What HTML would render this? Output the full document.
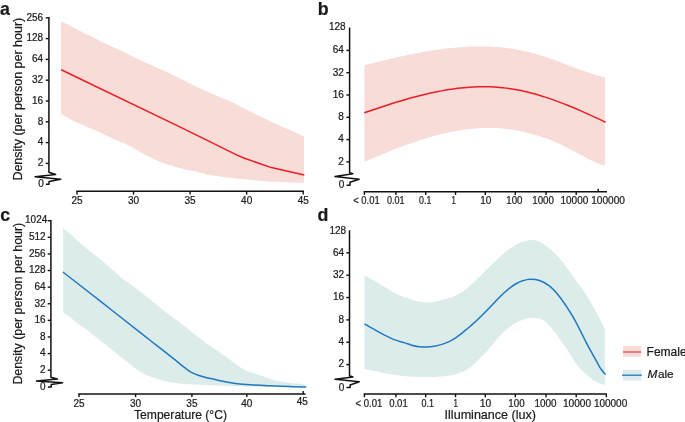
<!DOCTYPE html>
<html><head><meta charset="utf-8"><style>
html,body{margin:0;padding:0;background:#fff;overflow:hidden;}
svg{display:block;will-change:transform;font-family:"Liberation Sans",sans-serif;}
.t text{stroke:#1a1a1a;stroke-width:0.22px;paint-order:stroke;}
</style></head><body>
<svg width="685" height="422" viewBox="0 0 685 422">
<rect width="685" height="422" fill="#fff"/>
<g font-family="'Liberation Sans', sans-serif" fill="#1a1a1a" class="t">
<path d="M61.10,21.70 L66.80,24.10 L75.50,28.40 L84.30,33.30 L93.00,37.20 L97.40,39.40 L100.00,40.90 L110.20,45.70 L120.40,50.30 L130.70,55.40 L140.90,60.50 L151.10,65.10 L161.30,69.70 L170.00,73.60 L175.20,76.20 L185.40,81.10 L195.70,86.40 L205.90,91.00 L216.10,95.60 L226.30,99.70 L233.50,103.00 L243.10,108.00 L254.20,113.50 L265.30,119.10 L276.40,124.10 L287.50,129.10 L298.60,134.10 L304.10,136.40 L304.10,182.70 L291.60,182.40 L274.70,181.70 L257.70,180.70 L240.80,179.00 L223.90,176.90 L206.90,174.40 L195.00,171.30 L186.30,169.70 L176.10,167.10 L165.90,164.10 L155.70,160.00 L145.40,154.90 L135.20,149.20 L125.00,143.60 L113.30,139.10 L102.70,133.80 L92.00,129.00 L81.30,124.20 L76.00,122.10 L70.70,119.40 L61.10,114.00 Z" fill="#f8dcd7"/>
<path d="M61.20,69.70 L186.00,129.90 L237.10,155.10 L244.50,158.30 L271.30,167.60 L304.30,174.90" fill="none" stroke="#ed1c24" stroke-width="1.5" stroke-linejoin="round"/>
<path d="M48.90,17.10 L48.90,172.30 L48.90,172.30 L55.60,174.50 L35.10,176.70 L60.70,179.20 L49.05,181.50 L49.05,184.30 L45.90,184.30" fill="none" stroke="#111" stroke-width="1.5" stroke-linejoin="round"/>
<line x1="45.699999999999996" y1="17.8" x2="48.9" y2="17.8" stroke="#111" stroke-width="1.4"/>
<line x1="45.699999999999996" y1="38.6" x2="48.9" y2="38.6" stroke="#111" stroke-width="1.4"/>
<line x1="45.699999999999996" y1="59.400000000000006" x2="48.9" y2="59.400000000000006" stroke="#111" stroke-width="1.4"/>
<line x1="45.699999999999996" y1="80.2" x2="48.9" y2="80.2" stroke="#111" stroke-width="1.4"/>
<line x1="45.699999999999996" y1="101.0" x2="48.9" y2="101.0" stroke="#111" stroke-width="1.4"/>
<line x1="45.699999999999996" y1="121.8" x2="48.9" y2="121.8" stroke="#111" stroke-width="1.4"/>
<line x1="45.699999999999996" y1="142.60000000000002" x2="48.9" y2="142.60000000000002" stroke="#111" stroke-width="1.4"/>
<line x1="45.699999999999996" y1="163.4" x2="48.9" y2="163.4" stroke="#111" stroke-width="1.4"/>
<text x="43.2" y="20.6" font-size="10.0" text-anchor="end">256</text>
<text x="43.2" y="41.4" font-size="10.0" text-anchor="end">128</text>
<text x="43.2" y="62.2" font-size="10.0" text-anchor="end">64</text>
<text x="43.2" y="83.0" font-size="10.0" text-anchor="end">32</text>
<text x="43.2" y="103.8" font-size="10.0" text-anchor="end">16</text>
<text x="43.2" y="124.6" font-size="10.0" text-anchor="end">8</text>
<text x="43.2" y="145.40000000000003" font-size="10.0" text-anchor="end">4</text>
<text x="43.2" y="166.20000000000002" font-size="10.0" text-anchor="end">2</text>
<text x="43.9" y="187.4" font-size="10.0" text-anchor="end">0</text>
<line x1="76.3" y1="191.2" x2="304" y2="191.2" stroke="#111" stroke-width="1.5"/>
<line x1="77.00" y1="191.2" x2="77.00" y2="194.6" stroke="#111" stroke-width="1.4"/>
<text x="77.00" y="204.2" font-size="10.0" text-anchor="middle">25</text>
<line x1="133.55" y1="191.2" x2="133.55" y2="194.6" stroke="#111" stroke-width="1.4"/>
<text x="133.55" y="204.2" font-size="10.0" text-anchor="middle">30</text>
<line x1="190.10" y1="191.2" x2="190.10" y2="194.6" stroke="#111" stroke-width="1.4"/>
<text x="190.10" y="204.2" font-size="10.0" text-anchor="middle">35</text>
<line x1="246.65" y1="191.2" x2="246.65" y2="194.6" stroke="#111" stroke-width="1.4"/>
<text x="246.65" y="204.2" font-size="10.0" text-anchor="middle">40</text>
<line x1="303.20" y1="191.2" x2="303.20" y2="194.6" stroke="#111" stroke-width="1.4"/>
<text x="303.20" y="204.2" font-size="10.0" text-anchor="middle">45</text>
<path d="M364.40,65.12 C365.40,64.87 368.41,64.12 370.41,63.63 C372.42,63.13 374.42,62.64 376.42,62.15 C378.43,61.66 380.43,61.17 382.44,60.69 C384.44,60.21 386.45,59.74 388.45,59.27 C390.45,58.80 392.46,58.34 394.46,57.89 C396.47,57.43 398.47,56.98 400.47,56.55 C402.48,56.11 404.48,55.68 406.49,55.26 C408.49,54.84 410.50,54.43 412.50,54.04 C414.50,53.64 416.51,53.25 418.51,52.88 C420.52,52.50 422.52,52.14 424.52,51.79 C426.53,51.44 428.53,51.10 430.54,50.78 C432.54,50.46 434.55,50.15 436.55,49.86 C438.55,49.57 440.56,49.29 442.56,49.04 C444.57,48.78 446.57,48.54 448.57,48.31 C450.58,48.09 452.58,47.88 454.59,47.69 C456.59,47.51 458.60,47.34 460.60,47.19 C462.60,47.04 464.61,46.92 466.61,46.81 C468.62,46.71 470.62,46.62 472.62,46.56 C474.63,46.50 476.63,46.46 478.64,46.44 C480.64,46.43 482.65,46.44 484.65,46.47 C486.65,46.51 488.66,46.57 490.66,46.66 C492.67,46.75 494.67,46.86 496.67,47.01 C498.68,47.16 500.68,47.33 502.69,47.54 C504.69,47.74 506.70,47.98 508.70,48.24 C510.70,48.51 512.71,48.81 514.71,49.14 C516.72,49.48 518.72,49.84 520.73,50.25 C522.73,50.65 524.73,51.09 526.74,51.56 C528.74,52.04 530.75,52.55 532.75,53.10 C534.75,53.65 536.76,54.24 538.76,54.85 C540.77,55.46 542.77,56.11 544.77,56.78 C546.78,57.45 548.78,58.15 550.79,58.86 C552.79,59.56 554.80,60.29 556.80,61.03 C558.80,61.77 560.81,62.52 562.81,63.27 C564.82,64.02 566.82,64.78 568.83,65.53 C570.83,66.28 572.83,67.03 574.84,67.77 C576.84,68.50 578.85,69.24 580.85,69.95 C582.85,70.66 584.86,71.37 586.86,72.04 C588.87,72.71 590.87,73.37 592.88,73.99 C594.88,74.61 596.88,75.21 598.89,75.77 C600.89,76.32 603.90,77.07 604.90,77.33 L604.90,166.01 C603.90,165.65 600.89,164.63 598.89,163.83 C596.88,163.03 594.88,162.14 592.88,161.21 C590.87,160.28 588.87,159.27 586.86,158.25 C584.86,157.23 582.85,156.16 580.85,155.10 C578.85,154.03 576.84,152.93 574.84,151.86 C572.83,150.78 570.83,149.70 568.83,148.66 C566.82,147.62 564.82,146.59 562.81,145.62 C560.81,144.65 558.80,143.72 556.80,142.84 C554.80,141.96 552.79,141.12 550.79,140.33 C548.78,139.53 546.78,138.78 544.77,138.06 C542.77,137.34 540.77,136.67 538.76,136.03 C536.76,135.39 534.75,134.78 532.75,134.22 C530.75,133.65 528.74,133.12 526.74,132.63 C524.73,132.13 522.73,131.68 520.73,131.26 C518.72,130.84 516.72,130.46 514.71,130.12 C512.71,129.78 510.70,129.48 508.70,129.21 C506.70,128.95 504.69,128.72 502.69,128.54 C500.68,128.35 498.68,128.21 496.67,128.10 C494.67,127.99 492.67,127.93 490.66,127.90 C488.66,127.87 486.65,127.88 484.65,127.93 C482.65,127.97 480.64,128.06 478.64,128.17 C476.63,128.29 474.63,128.45 472.62,128.63 C470.62,128.82 468.62,129.04 466.61,129.29 C464.61,129.54 462.60,129.83 460.60,130.14 C458.60,130.46 456.59,130.80 454.59,131.17 C452.58,131.55 450.58,131.95 448.57,132.38 C446.57,132.80 444.57,133.26 442.56,133.74 C440.56,134.22 438.55,134.73 436.55,135.26 C434.55,135.79 432.54,136.34 430.54,136.92 C428.53,137.49 426.53,138.09 424.52,138.71 C422.52,139.33 420.52,139.97 418.51,140.63 C416.51,141.28 414.50,141.96 412.50,142.65 C410.50,143.35 408.49,144.06 406.49,144.79 C404.48,145.51 402.48,146.26 400.47,147.01 C398.47,147.77 396.47,148.54 394.46,149.32 C392.46,150.10 390.45,150.90 388.45,151.71 C386.45,152.51 384.44,153.33 382.44,154.16 C380.43,154.98 378.43,155.82 376.42,156.66 C374.42,157.50 372.42,158.35 370.41,159.21 C368.41,160.06 365.40,161.36 364.40,161.79 Z" fill="#f8dcd7"/>
<path d="M364.30,112.82 C365.31,112.47 368.32,111.42 370.33,110.73 C372.34,110.04 374.35,109.36 376.37,108.68 C378.38,108.00 380.39,107.33 382.40,106.67 C384.41,106.01 386.42,105.35 388.43,104.71 C390.44,104.06 392.45,103.43 394.46,102.80 C396.47,102.18 398.48,101.56 400.50,100.96 C402.51,100.36 404.52,99.77 406.53,99.20 C408.54,98.62 410.55,98.06 412.56,97.52 C414.57,96.97 416.58,96.44 418.59,95.92 C420.60,95.41 422.61,94.91 424.62,94.43 C426.64,93.95 428.65,93.49 430.66,93.04 C432.67,92.60 434.68,92.18 436.69,91.77 C438.70,91.37 440.71,90.99 442.72,90.62 C444.73,90.26 446.74,89.92 448.75,89.61 C450.77,89.29 452.78,89.00 454.79,88.73 C456.80,88.46 458.81,88.22 460.82,88.00 C462.83,87.78 464.84,87.59 466.85,87.43 C468.86,87.26 470.87,87.12 472.88,87.02 C474.90,86.91 476.91,86.83 478.92,86.78 C480.93,86.73 482.94,86.71 484.95,86.72 C486.96,86.73 488.97,86.78 490.98,86.85 C492.99,86.93 495.00,87.04 497.01,87.18 C499.03,87.32 501.04,87.50 503.05,87.71 C505.06,87.93 507.07,88.17 509.08,88.46 C511.09,88.74 513.10,89.07 515.11,89.42 C517.12,89.78 519.13,90.17 521.14,90.59 C523.16,91.02 525.17,91.48 527.18,91.96 C529.19,92.45 531.20,92.97 533.21,93.52 C535.22,94.06 537.23,94.64 539.24,95.24 C541.25,95.84 543.26,96.47 545.28,97.13 C547.29,97.78 549.30,98.46 551.31,99.16 C553.32,99.86 555.33,100.59 557.34,101.33 C559.35,102.08 561.36,102.85 563.37,103.63 C565.38,104.42 567.39,105.22 569.40,106.04 C571.42,106.86 573.43,107.70 575.44,108.55 C577.45,109.40 579.46,110.27 581.47,111.15 C583.48,112.03 585.49,112.93 587.50,113.83 C589.51,114.73 591.52,115.65 593.54,116.57 C595.55,117.50 597.56,118.43 599.57,119.37 C601.58,120.31 604.59,121.73 605.60,122.21" fill="none" stroke="#ed1c24" stroke-width="1.5"/>
<path d="M349.60,27.60 L349.60,172.80 L349.60,172.80 L352.80,173.70 L335.00,176.60 L359.10,179.30 L350.00,182.30 L350.00,185.20 L346.60,185.20" fill="none" stroke="#111" stroke-width="1.5" stroke-linejoin="round"/>
<line x1="346.40000000000003" y1="50.400000000000006" x2="349.6" y2="50.400000000000006" stroke="#111" stroke-width="1.4"/>
<line x1="346.40000000000003" y1="72.7" x2="349.6" y2="72.7" stroke="#111" stroke-width="1.4"/>
<line x1="346.40000000000003" y1="95.0" x2="349.6" y2="95.0" stroke="#111" stroke-width="1.4"/>
<line x1="346.40000000000003" y1="117.30000000000001" x2="349.6" y2="117.30000000000001" stroke="#111" stroke-width="1.4"/>
<line x1="346.40000000000003" y1="139.6" x2="349.6" y2="139.6" stroke="#111" stroke-width="1.4"/>
<line x1="346.40000000000003" y1="161.9" x2="349.6" y2="161.9" stroke="#111" stroke-width="1.4"/>
<text x="345.7" y="30.2" font-size="10.0" text-anchor="end">128</text>
<text x="343.8" y="53.2" font-size="10.0" text-anchor="end">64</text>
<text x="343.8" y="75.5" font-size="10.0" text-anchor="end">32</text>
<text x="343.8" y="97.8" font-size="10.0" text-anchor="end">16</text>
<text x="343.8" y="120.10000000000001" font-size="10.0" text-anchor="end">8</text>
<text x="343.8" y="142.4" font-size="10.0" text-anchor="end">4</text>
<text x="343.8" y="164.70000000000002" font-size="10.0" text-anchor="end">2</text>
<text x="344.2" y="188.4" font-size="10.0" text-anchor="end">0</text>
<line x1="363.7" y1="191.7" x2="607" y2="191.7" stroke="#111" stroke-width="1.5"/>
<line x1="364.4" y1="191.7" x2="364.4" y2="194.89999999999998" stroke="#111" stroke-width="1.4"/>
<line x1="395.9" y1="191.7" x2="395.9" y2="194.89999999999998" stroke="#111" stroke-width="1.4"/>
<line x1="425.7" y1="191.7" x2="425.7" y2="194.89999999999998" stroke="#111" stroke-width="1.4"/>
<line x1="455.5" y1="191.7" x2="455.5" y2="194.89999999999998" stroke="#111" stroke-width="1.4"/>
<line x1="485.3" y1="191.7" x2="485.3" y2="194.89999999999998" stroke="#111" stroke-width="1.4"/>
<line x1="515.3" y1="191.7" x2="515.3" y2="194.89999999999998" stroke="#111" stroke-width="1.4"/>
<line x1="546.0" y1="191.7" x2="546.0" y2="194.89999999999998" stroke="#111" stroke-width="1.4"/>
<line x1="576.2" y1="191.7" x2="576.2" y2="194.89999999999998" stroke="#111" stroke-width="1.4"/>
<line x1="598.2" y1="188.7" x2="598.2" y2="191.7" stroke="#111" stroke-width="1.4"/>
<text x="353.2" y="204.2" font-size="10.0" text-anchor="start" textLength="26.5" lengthAdjust="spacingAndGlyphs">&lt; 0.01</text>
<text x="387.0" y="204.2" font-size="10.0" text-anchor="start" textLength="17.6" lengthAdjust="spacingAndGlyphs">0.01</text>
<text x="419.1" y="204.2" font-size="10.0" text-anchor="start" textLength="12.2" lengthAdjust="spacingAndGlyphs">0.1</text>
<text x="451.6" y="204.2" font-size="10.0" text-anchor="start" textLength="4.3" lengthAdjust="spacingAndGlyphs">1</text>
<text x="480.2" y="204.2" font-size="10.0" text-anchor="start" textLength="11.1" lengthAdjust="spacingAndGlyphs">10</text>
<text x="506.3" y="204.2" font-size="10.0" text-anchor="start" textLength="16.1" lengthAdjust="spacingAndGlyphs">100</text>
<text x="532.3" y="204.2" font-size="10.0" text-anchor="start" textLength="21.6" lengthAdjust="spacingAndGlyphs">1000</text>
<text x="560.5" y="204.2" font-size="10.0" text-anchor="start" textLength="27.8" lengthAdjust="spacingAndGlyphs">10000</text>
<text x="591.2" y="204.2" font-size="10.0" text-anchor="start" textLength="33.8" lengthAdjust="spacingAndGlyphs">100000</text>
<path d="M63.10,228.20 L69.50,232.90 L79.00,241.90 L88.40,250.00 L100.00,259.00 L114.00,271.30 L123.40,279.40 L135.00,287.60 L144.50,295.00 L154.00,302.50 L163.40,310.60 L175.00,319.00 L184.50,325.90 L194.00,334.00 L203.40,341.10 L213.00,347.80 L222.50,354.20 L232.00,361.30 L241.40,368.00 L246.20,370.80 L253.00,372.90 L260.00,375.30 L273.30,380.00 L289.70,382.90 L305.60,384.30 L305.60,387.60 L240.00,386.40 L220.00,385.60 L190.00,384.30 L183.50,383.90 L175.90,383.10 L168.30,382.00 L160.80,380.10 L153.20,377.80 L145.60,374.80 L138.00,370.40 L128.40,363.00 L119.00,355.40 L109.50,347.80 L100.00,340.40 L93.20,334.90 L88.40,330.80 L83.70,327.70 L79.00,324.40 L74.20,320.60 L69.50,316.80 L63.10,312.40 Z" fill="#dcecea"/>
<path d="M62.90,272.00 C69.08,276.82 87.15,290.83 100.00,300.90 C112.85,310.97 130.57,324.98 140.00,332.40 C149.43,339.82 151.07,341.07 156.60,345.40 C162.13,349.73 168.88,354.98 173.20,358.40 C177.52,361.82 180.33,364.17 182.50,365.90 C184.67,367.63 184.98,367.90 186.20,368.80 C187.42,369.70 188.57,370.53 189.80,371.30 C191.03,372.07 192.22,372.75 193.60,373.40 C194.98,374.05 196.20,374.57 198.10,375.20 C200.00,375.83 202.47,376.57 205.00,377.20 C207.53,377.83 210.80,378.40 213.30,379.00 C215.80,379.60 216.38,380.05 220.00,380.80 C223.62,381.55 230.67,382.87 235.00,383.50 C239.33,384.13 240.53,384.22 246.00,384.60 C251.47,384.98 260.52,385.47 267.80,385.80 C275.08,386.13 283.30,386.40 289.70,386.60 C296.10,386.80 303.45,386.93 306.20,387.00" fill="none" stroke="#1f78c1" stroke-width="1.5"/>
<path d="M50.90,220.00 L50.90,377.30 L50.90,377.30 L57.40,379.00 L36.50,381.10 L62.60,382.80 L51.20,384.40 L51.20,386.90 L47.90,386.90" fill="none" stroke="#111" stroke-width="1.5" stroke-linejoin="round"/>
<line x1="47.699999999999996" y1="220.7" x2="50.9" y2="220.7" stroke="#111" stroke-width="1.4"/>
<line x1="47.699999999999996" y1="237.31" x2="50.9" y2="237.31" stroke="#111" stroke-width="1.4"/>
<line x1="47.699999999999996" y1="253.92" x2="50.9" y2="253.92" stroke="#111" stroke-width="1.4"/>
<line x1="47.699999999999996" y1="270.53" x2="50.9" y2="270.53" stroke="#111" stroke-width="1.4"/>
<line x1="47.699999999999996" y1="287.14" x2="50.9" y2="287.14" stroke="#111" stroke-width="1.4"/>
<line x1="47.699999999999996" y1="303.75" x2="50.9" y2="303.75" stroke="#111" stroke-width="1.4"/>
<line x1="47.699999999999996" y1="320.36" x2="50.9" y2="320.36" stroke="#111" stroke-width="1.4"/>
<line x1="47.699999999999996" y1="336.96999999999997" x2="50.9" y2="336.96999999999997" stroke="#111" stroke-width="1.4"/>
<line x1="47.699999999999996" y1="353.58" x2="50.9" y2="353.58" stroke="#111" stroke-width="1.4"/>
<line x1="47.699999999999996" y1="370.19" x2="50.9" y2="370.19" stroke="#111" stroke-width="1.4"/>
<text x="47.3" y="223.0" font-size="10.0" text-anchor="end">1024</text>
<text x="45.6" y="240.11" font-size="10.0" text-anchor="end">512</text>
<text x="45.6" y="256.71999999999997" font-size="10.0" text-anchor="end">256</text>
<text x="45.6" y="273.33" font-size="10.0" text-anchor="end">128</text>
<text x="45.6" y="289.94" font-size="10.0" text-anchor="end">64</text>
<text x="45.6" y="306.55" font-size="10.0" text-anchor="end">32</text>
<text x="45.6" y="323.16" font-size="10.0" text-anchor="end">16</text>
<text x="45.6" y="339.77" font-size="10.0" text-anchor="end">8</text>
<text x="45.6" y="356.38" font-size="10.0" text-anchor="end">4</text>
<text x="45.6" y="372.99" font-size="10.0" text-anchor="end">2</text>
<text x="45.6" y="390.0" font-size="10.0" text-anchor="end">0</text>
<line x1="78.2" y1="394.0" x2="305.5" y2="394.0" stroke="#111" stroke-width="1.5"/>
<line x1="79" y1="394" x2="79" y2="397" stroke="#111" stroke-width="1.4"/>
<text x="79" y="406.9" font-size="10.0" text-anchor="middle">25</text>
<line x1="135.6" y1="394" x2="135.6" y2="397" stroke="#111" stroke-width="1.4"/>
<text x="135.6" y="406.9" font-size="10.0" text-anchor="middle">30</text>
<line x1="191.9" y1="394" x2="191.9" y2="397" stroke="#111" stroke-width="1.4"/>
<text x="191.9" y="406.9" font-size="10.0" text-anchor="middle">35</text>
<line x1="246.8" y1="394" x2="246.8" y2="397" stroke="#111" stroke-width="1.4"/>
<text x="246.8" y="406.9" font-size="10.0" text-anchor="middle">40</text>
<line x1="303.2" y1="391" x2="303.2" y2="394" stroke="#111" stroke-width="1.4"/>
<text x="302.3" y="405.3" font-size="10.0" text-anchor="middle">45</text>
<text x="134.0" y="418.8" font-size="13.1" text-anchor="start" textLength="93.0" lengthAdjust="spacingAndGlyphs">Temperature (°C)</text>
<path d="M364.50,275.00 C367.70,276.88 378.52,283.23 383.70,286.30 C388.88,289.37 391.65,291.43 395.60,293.40 C399.55,295.37 403.45,296.72 407.40,298.10 C411.35,299.48 415.35,300.98 419.30,301.70 C423.25,302.42 427.65,302.58 431.10,302.40 C434.55,302.22 436.85,301.37 440.00,300.60 C443.15,299.83 446.68,299.02 450.00,297.80 C453.32,296.58 456.58,295.28 459.90,293.30 C463.22,291.32 466.88,288.42 469.90,285.90 C472.92,283.38 474.92,281.22 478.00,278.20 C481.08,275.18 484.93,271.18 488.40,267.80 C491.87,264.42 495.32,261.03 498.80,257.90 C502.28,254.77 505.82,251.52 509.30,249.00 C512.78,246.48 516.25,244.27 519.70,242.80 C523.15,241.33 526.92,240.48 530.00,240.20 C533.08,239.92 534.55,239.40 538.20,241.10 C541.85,242.80 547.65,246.67 551.90,250.40 C556.15,254.13 559.75,258.55 563.70,263.50 C567.65,268.45 571.63,274.57 575.60,280.10 C579.57,285.63 583.55,290.38 587.50,296.70 C591.45,303.02 596.40,312.55 599.30,318.00 C602.20,323.45 603.97,327.50 604.90,329.40 L604.90,384.70 C603.83,384.42 600.90,384.10 598.50,383.00 C596.10,381.90 593.82,380.80 590.50,378.10 C587.18,375.40 582.38,371.40 578.60,366.80 C574.82,362.20 571.50,355.93 567.80,350.50 C564.10,345.07 560.18,339.05 556.40,334.20 C552.62,329.35 548.88,324.13 545.10,321.40 C541.32,318.67 537.63,318.00 533.70,317.80 C529.77,317.60 525.52,318.68 521.50,320.20 C517.48,321.72 513.55,323.90 509.60,326.90 C505.65,329.90 501.58,334.13 497.80,338.20 C494.02,342.27 490.15,347.68 486.90,351.30 C483.65,354.92 481.15,357.17 478.30,359.90 C475.45,362.63 473.12,365.45 469.80,367.70 C466.48,369.95 462.67,371.98 458.40,373.40 C454.13,374.82 448.93,375.60 444.20,376.20 C439.47,376.80 435.73,376.97 430.00,377.00 C424.27,377.03 415.93,376.78 409.80,376.40 C403.67,376.02 398.73,375.53 393.20,374.70 C387.67,373.87 381.40,372.37 376.60,371.40 C371.80,370.43 366.43,369.32 364.40,368.90 Z" fill="#dcecea"/>
<path d="M364.50,323.80 C366.52,324.97 373.20,328.88 376.60,330.80 C380.00,332.72 381.87,333.78 384.90,335.30 C387.93,336.82 391.62,338.68 394.80,339.90 C397.98,341.12 401.20,341.72 404.00,342.60 C406.80,343.48 409.07,344.52 411.60,345.20 C414.13,345.88 416.67,346.38 419.20,346.70 C421.73,347.02 424.27,347.17 426.80,347.10 C429.33,347.03 431.87,346.75 434.40,346.30 C436.93,345.85 439.47,345.22 442.00,344.40 C444.53,343.58 447.27,342.53 449.60,341.40 C451.93,340.27 453.55,339.30 456.00,337.60 C458.45,335.90 461.88,333.13 464.30,331.20 C466.72,329.27 468.22,328.00 470.50,326.00 C472.78,324.00 475.08,322.00 478.00,319.20 C480.92,316.40 484.67,312.62 488.00,309.20 C491.33,305.78 495.30,301.43 498.00,298.70 C500.70,295.97 502.15,294.65 504.20,292.80 C506.25,290.95 508.25,289.15 510.30,287.60 C512.35,286.05 514.45,284.63 516.50,283.50 C518.55,282.37 520.35,281.52 522.60,280.80 C524.85,280.08 527.18,279.25 530.00,279.20 C532.82,279.15 536.33,279.42 539.50,280.50 C542.67,281.58 545.85,283.25 549.00,285.70 C552.15,288.15 555.47,291.72 558.40,295.20 C561.33,298.68 564.12,302.90 566.60,306.60 C569.08,310.30 571.08,313.53 573.30,317.40 C575.52,321.27 577.70,325.52 579.90,329.80 C582.10,334.08 584.28,338.85 586.50,343.10 C588.72,347.35 591.27,351.78 593.20,355.30 C595.13,358.82 596.72,361.78 598.10,364.20 C599.48,366.62 600.25,368.07 601.50,369.80 C602.75,371.53 604.92,373.80 605.60,374.60" fill="none" stroke="#1f78c1" stroke-width="1.5"/>
<path d="M349.50,230.30 L349.50,375.80 L349.50,375.80 L352.90,377.00 L335.10,379.30 L359.20,381.70 L350.10,385.00 L350.10,387.60 L346.50,387.60" fill="none" stroke="#111" stroke-width="1.5" stroke-linejoin="round"/>
<line x1="346.3" y1="252.85000000000002" x2="349.5" y2="252.85000000000002" stroke="#111" stroke-width="1.4"/>
<line x1="346.3" y1="275.20000000000005" x2="349.5" y2="275.20000000000005" stroke="#111" stroke-width="1.4"/>
<line x1="346.3" y1="297.55" x2="349.5" y2="297.55" stroke="#111" stroke-width="1.4"/>
<line x1="346.3" y1="319.90000000000003" x2="349.5" y2="319.90000000000003" stroke="#111" stroke-width="1.4"/>
<line x1="346.3" y1="342.25" x2="349.5" y2="342.25" stroke="#111" stroke-width="1.4"/>
<line x1="346.3" y1="364.6" x2="349.5" y2="364.6" stroke="#111" stroke-width="1.4"/>
<text x="346.2" y="233.5" font-size="10.0" text-anchor="end">128</text>
<text x="344.0" y="255.65000000000003" font-size="10.0" text-anchor="end">64</text>
<text x="344.0" y="278.00000000000006" font-size="10.0" text-anchor="end">32</text>
<text x="344.0" y="300.35" font-size="10.0" text-anchor="end">16</text>
<text x="344.0" y="322.70000000000005" font-size="10.0" text-anchor="end">8</text>
<text x="344.0" y="345.05" font-size="10.0" text-anchor="end">4</text>
<text x="344.0" y="367.40000000000003" font-size="10.0" text-anchor="end">2</text>
<text x="344.3" y="390.8" font-size="10.0" text-anchor="end">0</text>
<line x1="363.7" y1="394.0" x2="607" y2="394.0" stroke="#111" stroke-width="1.5"/>
<line x1="364.4" y1="394.0" x2="364.4" y2="397.2" stroke="#111" stroke-width="1.4"/>
<line x1="395.9" y1="394.0" x2="395.9" y2="397.2" stroke="#111" stroke-width="1.4"/>
<line x1="425.7" y1="394.0" x2="425.7" y2="397.2" stroke="#111" stroke-width="1.4"/>
<line x1="455.5" y1="394.0" x2="455.5" y2="397.2" stroke="#111" stroke-width="1.4"/>
<line x1="485.3" y1="394.0" x2="485.3" y2="397.2" stroke="#111" stroke-width="1.4"/>
<line x1="515.3" y1="394.0" x2="515.3" y2="397.2" stroke="#111" stroke-width="1.4"/>
<line x1="546.0" y1="394.0" x2="546.0" y2="397.2" stroke="#111" stroke-width="1.4"/>
<line x1="576.2" y1="394.0" x2="576.2" y2="397.2" stroke="#111" stroke-width="1.4"/>
<line x1="606.3" y1="394.0" x2="606.3" y2="397.2" stroke="#111" stroke-width="1.4"/>
<text x="355.4" y="406.7" font-size="10.0" text-anchor="start" textLength="26.9" lengthAdjust="spacingAndGlyphs">&lt; 0.01</text>
<text x="389.2" y="406.7" font-size="10.0" text-anchor="start" textLength="18.5" lengthAdjust="spacingAndGlyphs">0.01</text>
<text x="421.5" y="406.7" font-size="10.0" text-anchor="start" textLength="12.4" lengthAdjust="spacingAndGlyphs">0.1</text>
<text x="453.5" y="406.7" font-size="10.0" text-anchor="start" textLength="4.4" lengthAdjust="spacingAndGlyphs">1</text>
<text x="479.8" y="406.7" font-size="10.0" text-anchor="start" textLength="11.5" lengthAdjust="spacingAndGlyphs">10</text>
<text x="508.3" y="406.7" font-size="10.0" text-anchor="start" textLength="16.3" lengthAdjust="spacingAndGlyphs">100</text>
<text x="534.5" y="406.7" font-size="10.0" text-anchor="start" textLength="22.0" lengthAdjust="spacingAndGlyphs">1000</text>
<text x="563.0" y="406.7" font-size="10.0" text-anchor="start" textLength="28.1" lengthAdjust="spacingAndGlyphs">10000</text>
<text x="593.9" y="406.7" font-size="10.0" text-anchor="start" textLength="33.3" lengthAdjust="spacingAndGlyphs">100000</text>
<text x="444.6" y="418.7" font-size="13.1" text-anchor="start" textLength="91.4" lengthAdjust="spacingAndGlyphs">Illuminance (lux)</text>
<text x="0.1" y="15.2" font-size="17.8" text-anchor="start" font-weight="bold">a</text>
<text x="317.8" y="15.3" font-size="17.8" text-anchor="start" font-weight="bold">b</text>
<text x="0.3" y="221.1" font-size="17.8" text-anchor="start" font-weight="bold">c</text>
<text x="317.4" y="221.4" font-size="17.8" text-anchor="start" font-weight="bold">d</text>
<text transform="translate(22.1,180.6) rotate(-90)" font-size="13.2" textLength="162.8" lengthAdjust="spacingAndGlyphs">Density (per person per hour)</text>
<text transform="translate(22.1,384.6) rotate(-90)" font-size="13.2" textLength="161.8" lengthAdjust="spacingAndGlyphs">Density (per person per hour)</text>
<rect x="623" y="345.9" width="18.2" height="10.8" fill="#f8dcd7"/>
<line x1="623" y1="352" x2="641.2" y2="352" stroke="#e8474c" stroke-width="1.3"/>
<text x="646.6" y="356.1" font-size="12.0" text-anchor="start">Female</text>
<rect x="623" y="369.8" width="18.2" height="10.9" fill="#dcecea"/>
<line x1="622" y1="375.2" x2="641.9" y2="375.2" stroke="#1f78c1" stroke-width="1.3"/>
<text x="647.6" y="378.0" font-size="11.8"><tspan font-style="italic">M</tspan><tspan x="657.9">ale</tspan></text>
</g>
</svg>
</body></html>
